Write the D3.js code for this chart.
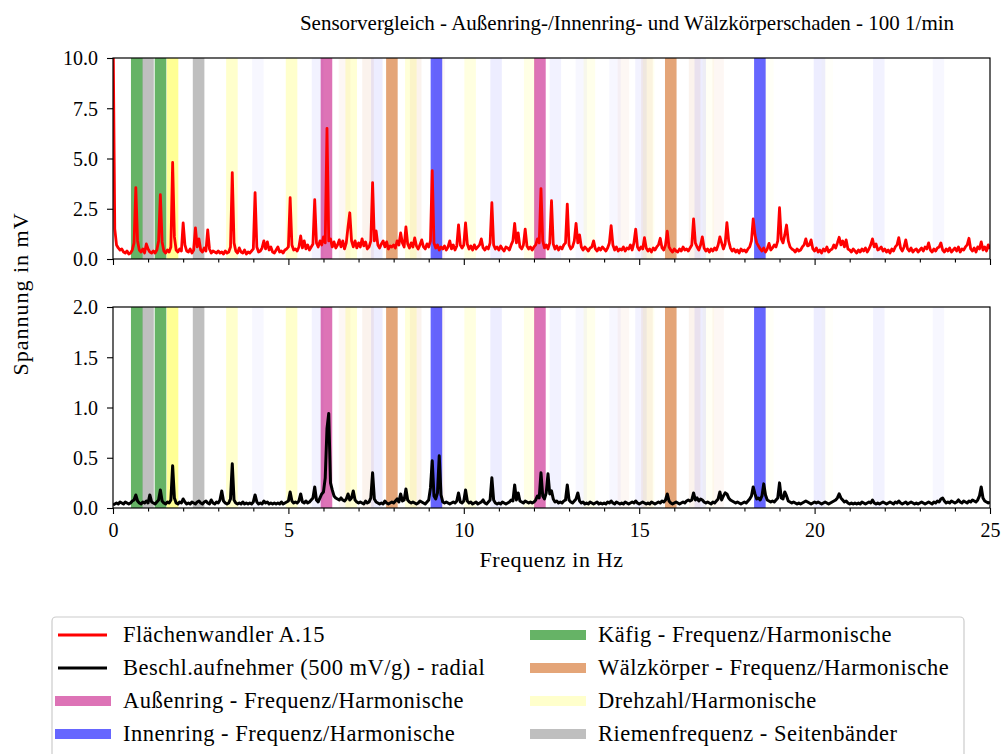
<!DOCTYPE html>
<html>
<head>
<meta charset="utf-8">
<script src="https://cdn.jsdelivr.net/npm/d3@7"></script>
<style>
  html, body { margin: 0; padding: 0; background: #fff; }
  svg { display: block; }
  text { font-family: "Liberation Serif", "DejaVu Serif", serif; fill: #000; }
</style>
</head>
<body>
<svg id="chart" width="1003" height="754"></svg>
<script>
// Spectrum resolution of both channels (Hz per bin)
const freqStep = 0.05;

// Flächenwandler A.15 amplitude spectrum in mV, one row per Hz
const surfaceSensor = [
  12, 1.5, 0.7, 0.55, 0.45, 0.5, 0.35, 0.3, 0.4, 0.25, 0.3, 0.45, 0.8, 3.55, 0.9, 0.45, 0.35, 0.5, 0.3, 0.75,
  0.5, 0.35, 0.3, 0.4, 0.3, 0.45, 0.9, 3.2, 0.85, 0.4, 0.3, 0.45, 0.35, 0.6, 4.8, 1.1, 0.45, 0.35, 0.5, 0.4,
  1.8, 0.7, 0.4, 0.35, 0.5, 0.3, 0.45, 1.55, 0.6, 1.0, 0.45, 0.35, 0.55, 0.4, 1.45, 0.5, 0.3, 0.4, 0.35, 0.3,
  0.4, 0.3, 0.35, 0.25, 0.4, 0.3, 0.35, 0.6, 4.3, 0.8, 0.4, 0.3, 0.55, 0.35, 0.3, 0.45, 0.25, 0.35, 0.3, 0.4,
  0.5, 3.3, 0.6, 0.35, 0.4, 0.55, 0.9, 0.5, 0.85, 0.45, 0.6, 0.35, 0.3, 0.45, 0.6, 0.35, 0.4, 0.3, 0.45, 0.5,
  0.6, 3.05, 0.7, 0.45, 0.5, 0.4, 0.6, 1.15, 0.55, 0.9, 0.5, 0.7, 0.45, 0.6, 0.75, 2.95, 0.8, 0.6, 0.9, 0.7,
  1.1, 0.8, 6.5, 0.9, 1.0, 0.6, 0.85, 0.55, 0.7, 0.95, 0.6, 0.9, 0.5, 0.8, 1.6, 2.3, 0.9, 0.6, 0.9, 0.55,
  0.8, 0.6, 1.0, 0.65, 0.85, 0.5, 0.6, 0.9, 3.8, 0.9, 1.4, 0.7, 0.55, 0.75, 0.9, 0.6, 0.85, 0.5, 0.65, 0.6,
  0.7, 0.55, 0.9, 0.7, 1.3, 0.8, 0.6, 1.6, 0.75, 0.55, 0.8, 0.6, 1.05, 0.65, 0.5, 0.7, 0.95, 0.6, 0.5, 0.75,
  0.6, 0.9, 4.4, 0.8, 0.55, 0.7, 0.45, 0.6, 0.5, 0.65, 0.45, 0.6, 0.9, 0.5, 0.7, 0.45, 0.65, 1.7, 0.7, 0.55,
  0.7, 1.8, 0.75, 0.5, 0.65, 0.45, 0.7, 0.5, 0.6, 0.7, 1.0, 0.55, 0.45, 0.6, 0.5, 0.8, 2.8, 0.7, 0.5, 0.6,
  0.45, 0.65, 0.5, 0.4, 0.6, 0.55, 0.45, 0.7, 0.9, 1.77, 0.8, 1.3, 0.6, 0.5, 0.7, 1.48, 0.65, 0.5, 0.6, 0.45,
  0.6, 0.7, 1.0, 0.8, 3.5, 0.9, 0.55, 0.7, 0.5, 0.8, 2.9, 0.75, 0.5, 0.65, 0.45, 0.6, 0.5, 0.7, 0.8, 2.73,
  0.7, 0.5, 0.6, 0.9, 1.77, 0.8, 1.2, 0.6, 0.45, 0.6, 0.5, 0.4, 0.55, 0.6, 0.9, 0.5, 0.4, 0.55, 0.45, 0.6,
  0.5, 0.4, 0.55, 0.8, 1.66, 0.7, 0.45, 0.6, 0.4, 0.5, 0.45, 0.6, 0.4, 0.55, 0.5, 0.7, 0.45, 0.8, 1.49, 0.6,
  0.45, 0.6, 0.5, 1.06, 0.55, 0.4, 0.5, 0.35, 0.55, 0.45, 0.6, 0.7, 1.03, 0.55, 0.45, 0.7, 1.39, 0.6, 0.45, 0.35,
  0.5, 0.4, 0.35, 0.5, 0.4, 0.6, 0.45, 0.5, 0.4, 0.55, 0.7, 2.0, 0.8, 0.6, 0.45, 0.7, 1.1, 0.55, 0.4, 0.5,
  0.35, 0.5, 0.4, 0.55, 0.45, 0.7, 1.1, 0.8, 0.5, 0.75, 1.81, 0.9, 0.55, 0.4, 0.5, 0.35, 0.45, 0.3, 0.5, 0.4,
  0.45, 0.35, 0.5, 0.6, 0.9, 2.0, 1.2, 0.8, 0.65, 0.5, 0.4, 0.55, 0.35, 0.5, 0.78, 0.45, 0.55, 0.7, 0.6, 0.9,
  2.55, 1.0, 0.8, 1.2, 1.69, 0.9, 0.6, 0.5, 0.45, 0.35, 0.5, 0.4, 0.45, 0.6, 0.7, 1.0, 0.65, 0.7, 0.95, 0.5,
  0.4, 0.55, 0.35, 0.45, 0.3, 0.5, 0.4, 0.6, 0.35, 0.45, 0.5, 0.7, 0.55, 0.8, 1.08, 0.7, 0.9, 0.6, 0.95, 0.5,
  0.45, 0.35, 0.5, 0.4, 0.3, 0.45, 0.35, 0.5, 0.4, 0.55, 0.35, 0.5, 0.7, 1.0, 0.6, 0.75, 0.45, 0.5, 0.6, 0.4,
  0.5, 0.35, 0.45, 0.3, 0.5, 0.4, 0.6, 0.7, 1.06, 0.55, 0.4, 0.6, 0.95, 0.5, 0.4, 0.55, 0.35, 0.45, 0.5, 0.35,
  0.45, 0.55, 0.4, 0.6, 0.5, 0.8, 0.45, 0.35, 0.5, 0.4, 0.55, 0.6, 0.8, 0.45, 0.35, 0.5, 0.4, 0.55, 0.35, 0.45,
  0.55, 0.4, 0.6, 0.35, 0.5, 0.45, 0.6, 0.7, 1.03, 0.5, 0.4, 0.55, 0.35, 0.6, 0.5, 0.85, 0.45, 0.6, 0.4, 0.7,
  0.5
];

// Beschleunigungsaufnehmer (500 mV/g), radial, amplitude spectrum in mV
const accelSensor = [
  0.03, 0.04, 0.05, 0.04, 0.06, 0.05, 0.04, 0.06, 0.05, 0.04, 0.05, 0.07, 0.08, 0.13, 0.07, 0.05, 0.04, 0.06, 0.05, 0.07,
  0.05, 0.13, 0.06, 0.05, 0.04, 0.06, 0.08, 0.18, 0.07, 0.05, 0.04, 0.06, 0.05, 0.08, 0.42, 0.1, 0.05, 0.04, 0.06, 0.05,
  0.09, 0.06, 0.04, 0.05, 0.04, 0.06, 0.05, 0.04, 0.06, 0.07, 0.05, 0.04, 0.06, 0.07, 0.05, 0.04, 0.08, 0.05, 0.04, 0.06,
  0.05, 0.08, 0.17, 0.07, 0.05, 0.04, 0.05, 0.09, 0.44, 0.08, 0.05, 0.04, 0.05, 0.04, 0.06, 0.04, 0.05, 0.04, 0.05, 0.04,
  0.06, 0.13, 0.06, 0.04, 0.05, 0.04, 0.07, 0.05, 0.06, 0.04, 0.05, 0.04, 0.05, 0.04, 0.05, 0.04, 0.06, 0.04, 0.05, 0.06,
  0.07, 0.16, 0.07, 0.05, 0.06, 0.05, 0.07, 0.14, 0.06, 0.05, 0.07, 0.05, 0.06, 0.08, 0.1, 0.21, 0.08, 0.06, 0.1, 0.14,
  0.16, 0.3, 0.79, 0.94, 0.25, 0.18, 0.12, 0.1, 0.09, 0.08, 0.1, 0.08, 0.07, 0.09, 0.14, 0.08, 0.1, 0.17, 0.08, 0.06,
  0.05, 0.06, 0.05, 0.04, 0.07, 0.05, 0.06, 0.1, 0.35, 0.09, 0.06, 0.05, 0.04, 0.05, 0.04, 0.07, 0.05, 0.04, 0.05, 0.06,
  0.05, 0.07, 0.09, 0.06, 0.14, 0.07, 0.08, 0.19, 0.08, 0.06, 0.05, 0.06, 0.05, 0.04, 0.05, 0.07, 0.06, 0.05, 0.04, 0.06,
  0.08, 0.2, 0.47, 0.12, 0.09, 0.15, 0.52, 0.13, 0.06, 0.05, 0.06, 0.05, 0.04, 0.05, 0.06, 0.05, 0.07, 0.15, 0.06, 0.05,
  0.07, 0.18, 0.07, 0.05, 0.06, 0.04, 0.05, 0.06, 0.04, 0.05, 0.06, 0.08, 0.05, 0.04, 0.06, 0.08, 0.3, 0.08, 0.05, 0.04,
  0.05, 0.04, 0.06, 0.05, 0.04, 0.05, 0.06, 0.08, 0.07, 0.23, 0.08, 0.15, 0.07, 0.06, 0.05, 0.07, 0.06, 0.05, 0.06, 0.05,
  0.06, 0.08, 0.12, 0.1, 0.35, 0.12, 0.09, 0.15, 0.34, 0.14, 0.17, 0.09, 0.06, 0.07, 0.05, 0.06, 0.05, 0.07, 0.08, 0.23,
  0.08, 0.06, 0.05, 0.07, 0.09, 0.15, 0.07, 0.05, 0.06, 0.04, 0.05, 0.04, 0.06, 0.05, 0.04, 0.05, 0.06, 0.04, 0.05, 0.04,
  0.05, 0.04, 0.06, 0.05, 0.07, 0.05, 0.04, 0.06, 0.05, 0.04, 0.05, 0.04, 0.06, 0.05, 0.04, 0.05, 0.06, 0.05, 0.07, 0.05,
  0.04, 0.05, 0.06, 0.05, 0.04, 0.05, 0.04, 0.06, 0.05, 0.04, 0.05, 0.06, 0.05, 0.07, 0.06, 0.08, 0.14, 0.07, 0.05, 0.04,
  0.05, 0.06, 0.05, 0.04, 0.05, 0.06, 0.05, 0.07, 0.08, 0.07, 0.08, 0.15, 0.08, 0.1, 0.07, 0.09, 0.08, 0.06, 0.05, 0.06,
  0.05, 0.04, 0.06, 0.05, 0.07, 0.09, 0.16, 0.08, 0.12, 0.15, 0.14, 0.1, 0.08, 0.07, 0.06, 0.05, 0.06, 0.05, 0.04, 0.05,
  0.06, 0.05, 0.07, 0.09, 0.12, 0.21, 0.14, 0.09, 0.1, 0.08, 0.12, 0.24, 0.13, 0.08, 0.07, 0.06, 0.07, 0.06, 0.08, 0.1,
  0.25, 0.1, 0.09, 0.16, 0.12, 0.07, 0.06, 0.05, 0.06, 0.05, 0.04, 0.05, 0.04, 0.05, 0.06, 0.07, 0.06, 0.05, 0.04, 0.05,
  0.06, 0.05, 0.06, 0.05, 0.04, 0.05, 0.06, 0.05, 0.04, 0.05, 0.06, 0.07, 0.08, 0.1, 0.14, 0.1, 0.08, 0.06, 0.07, 0.05,
  0.04, 0.05, 0.04, 0.05, 0.04, 0.05, 0.04, 0.06, 0.05, 0.04, 0.05, 0.06, 0.05, 0.08, 0.05, 0.04, 0.05, 0.04, 0.05, 0.06,
  0.05, 0.04, 0.05, 0.06, 0.05, 0.04, 0.06, 0.05, 0.07, 0.05, 0.04, 0.05, 0.06, 0.04, 0.05, 0.06, 0.05, 0.04, 0.05, 0.04,
  0.05, 0.06, 0.05, 0.04, 0.05, 0.06, 0.05, 0.04, 0.06, 0.05, 0.07, 0.06, 0.09, 0.1, 0.07, 0.05, 0.06, 0.05, 0.07, 0.06,
  0.05, 0.06, 0.08, 0.06, 0.05, 0.07, 0.06, 0.05, 0.07, 0.06, 0.08, 0.07, 0.06, 0.08, 0.12, 0.21, 0.1, 0.07, 0.06, 0.05,
  0.06
];

// Characteristic bearing frequencies in Hz: [centre, opacity]
const bandWidth = 0.33;
const speedBands = [
  [1.697, 0.42], [3.39, 0.2], [5.09, 0.2], [6.79, 0.17], [8.49, 0.15], [10.18, 0.12],
  [11.88, 0.1], [13.58, 0.08], [15.27, 0.06], [16.97, 0.04], [18.67, 0.03], [20.36, 0.02]
];
const beltSidebands = [[0.998, 0.5], [2.44, 0.5]];
const cageBands = [[0.677, 0.6], [1.354, 0.6]];
const outerRingBands = [[6.085, 0.6], [12.17, 0.6]];
const innerRingBands = [[9.22, 0.6], [18.44, 0.6]];
const innerRingSidebands = [
  [7.52, 0.07], [10.92, 0.07], [5.83, 0.05], [12.61, 0.05], [4.13, 0.03], [14.31, 0.03],
  [16.74, 0.07], [20.14, 0.07], [15.05, 0.05], [21.83, 0.05], [13.35, 0.03], [23.53, 0.03]
];
const rollerBands = [[7.95, 0.6], [15.9, 0.6]];
const rollerSidebands = [
  [7.27, 0.08], [8.63, 0.08], [6.6, 0.05], [9.3, 0.05],
  [15.22, 0.08], [16.58, 0.08], [14.55, 0.05], [17.25, 0.05]
];

// Draw order of the shaded bands (faint sidebands first)
const bandLayers = [
  { data: rollerSidebands, color: "chocolate" },
  { data: innerRingSidebands, color: "blue" },
  { data: speedBands, color: "yellow" },
  { data: beltSidebands, color: "gray" },
  { data: cageBands, color: "green" },
  { data: outerRingBands, color: "mediumvioletred" },
  { data: rollerBands, color: "chocolate" },
  { data: innerRingBands, color: "blue" }
];

const xTicks = [0, 5, 10, 15, 20, 25];
const topYTicks = [0, 2.5, 5, 7.5, 10];
const bottomYTicks = [0, 0.5, 1, 1.5, 2];

const legendEntries = [
  { label: "Flächenwandler A.15", type: "line", color: "#ff0000" },
  { label: "Beschl.aufnehmer (500 mV/g) - radial", type: "line", color: "#000000" },
  { label: "Außenring - Frequenz/Harmonische", type: "patch", color: "mediumvioletred", opacity: 0.6 },
  { label: "Innenring - Frequenz/Harmonische", type: "patch", color: "blue", opacity: 0.6 },
  { label: "Käfig - Frequenz/Harmonische", type: "patch", color: "green", opacity: 0.6 },
  { label: "Wälzkörper - Frequenz/Harmonische", type: "patch", color: "chocolate", opacity: 0.6 },
  { label: "Drehzahl/Harmonische", type: "patch", color: "yellow", opacity: 0.2 },
  { label: "Riemenfrequenz - Seitenbänder", type: "patch", color: "gray", opacity: 0.5 }
];

const svg = d3.select("#chart");
const left = 113, right = 990;
const x = d3.scaleLinear().domain([0, 25]).range([left, right]);

const panels = [
  { top: 58, bottom: 259, max: 10, ticks: topYTicks, data: surfaceSensor, color: "#ff0000", width: 2.8, labels: false },
  { top: 307, bottom: 508, max: 2, ticks: bottomYTicks, data: accelSensor, color: "#000000", width: 3, labels: true }
];

panels.forEach((p, k) => {
  const y = d3.scaleLinear().domain([0, p.max]).range([p.bottom, p.top]);
  const g = svg.append("g");
  const clipId = "clip" + k;
  svg.append("clipPath").attr("id", clipId)
    .append("rect").attr("x", left).attr("y", p.top).attr("width", right - left).attr("height", p.bottom - p.top);

  const plot = g.append("g").attr("clip-path", `url(#${clipId})`);

  bandLayers.forEach(layer => {
    plot.selectAll(null).data(layer.data).enter().append("rect")
      .attr("x", d => x(d[0] - bandWidth / 2))
      .attr("width", d => x(d[0] + bandWidth / 2) - x(d[0] - bandWidth / 2))
      .attr("y", p.top).attr("height", p.bottom - p.top)
      .attr("fill", layer.color).attr("fill-opacity", d => d[1]);
  });

  const line = d3.line().x((d, i) => x(i * freqStep)).y(d => y(d));
  plot.append("path").datum(p.data)
    .attr("d", line).attr("fill", "none")
    .attr("stroke", p.color).attr("stroke-width", p.width).attr("stroke-linejoin", "round");

  // frame
  g.append("rect").attr("x", left).attr("y", p.top).attr("width", right - left).attr("height", p.bottom - p.top)
    .attr("fill", "none").attr("stroke", "#000").attr("stroke-width", 1.2);

  // x axis: major ticks every 5 Hz, minor every 1 Hz
  const xAxis = d3.axisBottom(x).tickValues(xTicks).tickSize(6).tickSizeOuter(0)
    .tickFormat(p.labels ? d3.format("d") : "");
  const xa = g.append("g").attr("transform", `translate(0,${p.bottom})`).call(xAxis);
  const xMinor = d3.axisBottom(x).tickValues(d3.range(26).filter(v => v % 5 !== 0)).tickSize(3.5).tickFormat("").tickSizeOuter(0);
  const xm = g.append("g").attr("transform", `translate(0,${p.bottom})`).call(xMinor);
  [xa, xm].forEach(a => {
    a.select(".domain").remove();
    a.selectAll(".tick line").attr("stroke", "#000").attr("stroke-width", 1.1);
  });
  xa.selectAll(".tick text").attr("font-size", 20).attr("dy", "1.0em")
    .style("font-family", "'Liberation Serif', serif");

  // y axis
  const yAxis = d3.axisLeft(y).tickValues(p.ticks).tickSize(6).tickSizeOuter(0).tickFormat(d3.format(".1f"));
  const ya = g.append("g").attr("transform", `translate(${left},0)`).call(yAxis);
  ya.select(".domain").remove();
  ya.selectAll(".tick line").attr("stroke", "#000").attr("stroke-width", 1.1);
  ya.selectAll(".tick text").attr("font-size", 20).attr("x", -15).attr("dy", "0.34em")
    .style("font-family", "'Liberation Serif', serif");
});

// titles
svg.append("text").attr("x", 627).attr("y", 30).attr("text-anchor", "middle")
  .attr("font-size", 21).text("Sensorvergleich - Außenring-/Innenring- und Wälzkörperschaden - 100 1/min");
svg.append("text").attr("x", (left + right) / 2).attr("y", 567).attr("text-anchor", "middle")
  .attr("font-size", 22).attr("letter-spacing", 0.6).text("Frequenz in Hz");
svg.append("text").attr("transform", "translate(28,294) rotate(-90)").attr("text-anchor", "middle")
  .attr("font-size", 22).attr("letter-spacing", 1).text("Spannung in mV");

// legend
const lg = svg.append("g");
lg.append("rect").attr("x", 52).attr("y", 617).attr("width", 912).attr("height", 160).attr("rx", 4)
  .attr("fill", "#fff").attr("fill-opacity", 0.8).attr("stroke", "#cccccc").attr("stroke-width", 1.2);
const rowY = [635, 668, 701, 734];
legendEntries.forEach((e, i) => {
  const col = Math.floor(i / 4), row = i % 4;
  const hx = col === 0 ? 55 : 530;
  const tx = col === 0 ? 123 : 598;
  const cy = rowY[row];
  if (e.type === "line") {
    lg.append("line").attr("x1", hx + 3).attr("x2", hx + 52).attr("y1", cy).attr("y2", cy)
      .attr("stroke", e.color).attr("stroke-width", 2.8);
  } else {
    lg.append("rect").attr("x", hx).attr("y", cy - 5).attr("width", 56).attr("height", 10)
      .attr("fill", e.color).attr("fill-opacity", e.opacity);
  }
  lg.append("text").attr("x", tx).attr("y", cy + 7).attr("font-size", 22.5)
    .attr("letter-spacing", 0.5).text(e.label);
});
</script>
</body>
</html>
